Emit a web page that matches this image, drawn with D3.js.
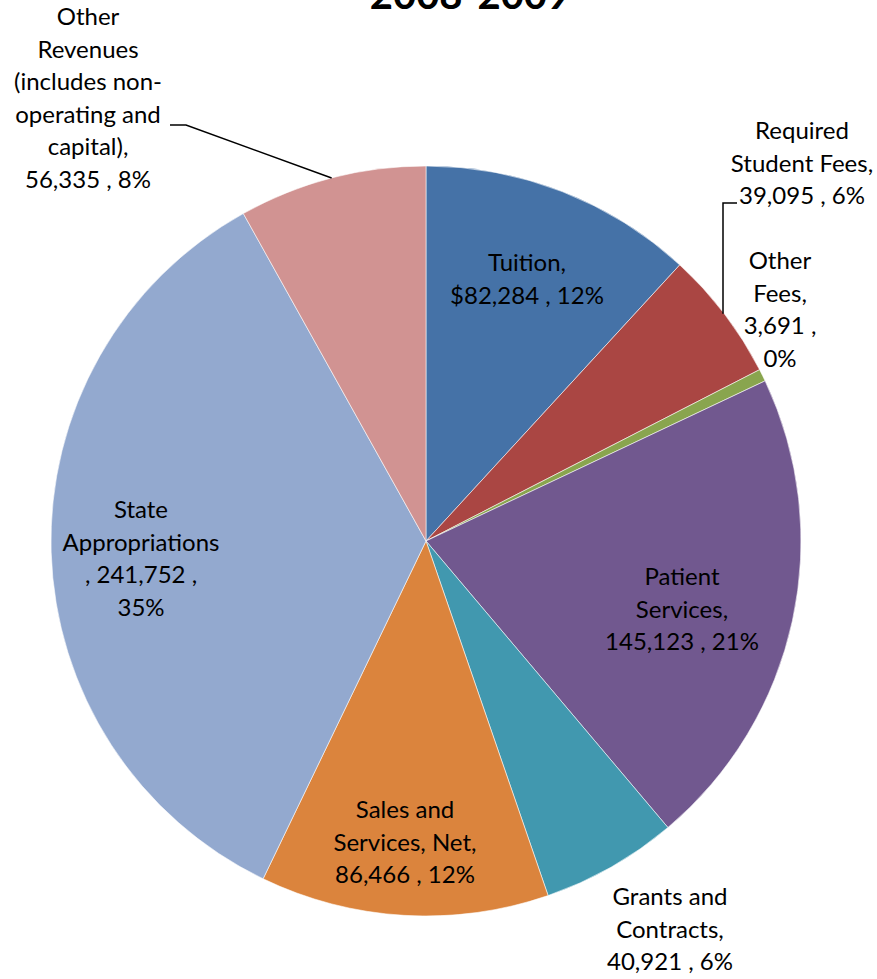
<!DOCTYPE html>
<html><head><meta charset="utf-8">
<script src="https://cdn.jsdelivr.net/npm/d3@7"></script>
<style>body{margin:0;background:#fff;} svg{display:block;}</style>
</head><body>
<svg id="chart" width="877" height="979"></svg>
<script>
// ---- data ----
const categories = ["Tuition", "Required Student Fees", "Other Fees", "Patient Services",
  "Grants and Contracts", "Sales and Services, Net", "State Appropriations", "Other Revenues"];
const values = [82284, 39095, 3691, 145123, 40921, 86466, 241752, 56335];
const percentLabels = ["12%", "6%", "0%", "21%", "6%", "12%", "35%", "8%"];
const colors = ["#4572A7", "#AA4643", "#89A54E", "#71588F", "#4198AF", "#DB843D", "#93A9CF", "#D19392"];
const title = "2008-2009";
// label text templates ({v}=value, {p}=percent)
const labelLines = [
  ["Tuition,", "${v} , {p}"],
  ["Required", "Student Fees,", "{v} , {p}"],
  ["Other", "Fees,", "{v} ,", "{p}"],
  ["Patient", "Services,", "{v} , {p}"],
  ["Grants and", "Contracts,", "{v} , {p}"],
  ["Sales and", "Services, Net,", "{v} , {p}"],
  ["State", "Appropriations", ", {v} ,", "{p}"],
  ["Other", "Revenues", "(includes non-", "operating and", "capital),", "{v} , {p}"]
];

// ---- layout ----
const cx = 426, cy = 541, R = 375;
const lineH = 32.5;
// label centre (x, y of first line centre) relative to pie centre
const labelPos = [[101, -278], [376, -410], [354, -280], [256, 36], [244, 356], [-21, 269], [-285, -31], [-338, -524]];
const fontFam = "Lato, 'Open Sans', sans-serif";
const fontSize = 24;

const svg = d3.select("#chart");
const data = categories.map((c, i) => ({name: c, value: values[i], pct: percentLabels[i], color: colors[i], lines: labelLines[i], pos: labelPos[i]}));
const pie = d3.pie().sort(null).value(d => d.value).startAngle(0).endAngle(2 * Math.PI);
const arc = d3.arc().innerRadius(0).outerRadius(R);
const arcs = pie(data);
const fmt = d3.format(",");

const g = svg.append("g").attr("transform", `translate(${cx},${cy})`);
g.selectAll("path.slice").data(arcs).join("path")
  .attr("class", "slice")
  .attr("d", arc)
  .attr("fill", d => d.data.color)
  .attr("stroke", "#fff").attr("stroke-width", 0.8).attr("stroke-opacity", 0.7);

// leader lines
function edgePoint(a, frac) {
  const ang = a.startAngle + (a.endAngle - a.startAngle) * frac;
  return [R * Math.sin(ang), -R * Math.cos(ang)];
}
const orPt = edgePoint(arcs[7], 0.5);
g.append("path").attr("d", d3.line()([[-256, -416], [-240, -416], orPt]))
  .attr("fill", "none").attr("stroke", "#000").attr("stroke-width", 1.5);
const rsPt = edgePoint(arcs[1], 0.5);
g.append("path").attr("d", d3.line()([[311, -338], [297, -338], [297, rsPt[1]]]))
  .attr("fill", "none").attr("stroke", "#000").attr("stroke-width", 1.5);

// labels
const lab = g.selectAll("text.lab").data(arcs).join("text")
  .attr("class", "lab")
  .attr("text-anchor", "middle")
  .attr("font-family", fontFam)
  .attr("font-size", fontSize)
  .attr("fill", "#000");
lab.each(function(d) {
  const t = d3.select(this);
  d.data.lines.forEach((ln, i) => {
    const s = ln.replace("{v}", fmt(d.data.value)).replace("{p}", d.data.pct);
    t.append("tspan").attr("x", d.data.pos[0]).attr("y", d.data.pos[1] + i * lineH)
      .attr("dy", "0.35em").text(s);
  });
});

// title (cut off at top as in the reference)
svg.append("text").attr("x", 470).attr("y", 9)
  .attr("text-anchor", "middle")
  .attr("font-family", fontFam).attr("font-weight", "bold")
  .attr("font-size", 40).text(title);
</script>
</body></html>
